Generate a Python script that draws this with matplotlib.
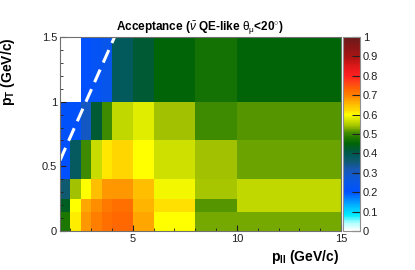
import numpy as np
import matplotlib
matplotlib.use('Agg')
import matplotlib.pyplot as plt
from matplotlib.colors import LinearSegmentedColormap

plt.rcParams['font.family'] = ['Liberation Sans', 'DejaVu Sans']
plt.rcParams['mathtext.fontset'] = 'custom'
plt.rcParams['mathtext.rm'] = 'Liberation Sans'
plt.rcParams['mathtext.it'] = 'Liberation Sans:italic'
plt.rcParams['mathtext.bf'] = 'Liberation Sans:bold'

# bin edges
pll_edges = [1.5, 2.0, 2.5, 3.0, 3.5, 4.0, 4.5, 5.0, 6.0, 8.0, 10.0, 15.0]
pt_edges = [0.0, 0.15, 0.25, 0.4, 0.7, 1.0, 1.5]

# acceptance per pT row (bottom to top), one value per pll bin
acc_pt0 = [0.48, 0.61, 0.68, 0.70, 0.72, 0.73, 0.73, 0.67, 0.60, 0.525, 0.525]
acc_pt1 = [0.43, 0.60, 0.67, 0.69, 0.71, 0.72, 0.72, 0.66, 0.62, 0.515, 0.56]
acc_pt2 = [0.36, 0.54, 0.60, 0.65, 0.68, 0.68, 0.68, 0.65, 0.59, 0.545, 0.56]
acc_pt3 = [0.20, 0.38, 0.50, 0.565, 0.615, 0.625, 0.625, 0.60, 0.57, 0.54, 0.52]
acc_pt4 = [0.21, 0.21, 0.30, 0.42, 0.50, 0.56, 0.56, 0.58, 0.54, 0.50, 0.515]
acc_pt5 = [np.nan, np.nan, 0.20, 0.22, 0.24, 0.385, 0.385, 0.42, 0.45, 0.47, 0.45]

theta_max = 20.0  # degrees

cb_ticks = [0, 0.1, 0.2, 0.3, 0.4, 0.5, 0.6, 0.7, 0.8, 0.9, 1]

acc = np.ma.masked_invalid(np.array([acc_pt0, acc_pt1, acc_pt2, acc_pt3, acc_pt4, acc_pt5]))

# ROOT-ish palette
anchors = [(0.00, '#ffffff'), (0.04, '#b0ffff'), (0.08, '#00eeff'), (0.12, '#00c0ff'),
           (0.16, '#0088ff'), (0.20, '#0050ff'), (0.26, '#0a58e0'), (0.32, '#1858b0'),
           (0.36, '#105a70'), (0.39, '#005a58'), (0.42, '#005a34'), (0.45, '#006408'),
           (0.48, '#1c7800'), (0.51, '#4a9000'), (0.54, '#a0c000'), (0.57, '#d0e200'),
           (0.60, '#ffff00'), (0.625, '#ffd800'), (0.65, '#ffc000'), (0.675, '#ffa000'),
           (0.70, '#ff8000'), (0.73, '#ff6800'), (0.76, '#ff4814'), (0.80, '#ff2020'),
           (0.85, '#e01818'), (0.90, '#a81414'), (1.00, '#6a1a1a')]
cmap = LinearSegmentedColormap.from_list('acc', anchors)

fig = plt.figure(figsize=(4.15, 2.7), dpi=100)
ax = fig.add_axes([60/415, 39/270, 281/415, 194/270])
cax = fig.add_axes([343/415, 39/270, 17/415, 194/270])

mesh = ax.pcolormesh(pll_edges, pt_edges, acc, cmap=cmap, vmin=0, vmax=1)

xl = np.array([pll_edges[0], pll_edges[-1]])
ax.plot(xl, xl * np.tan(np.radians(theta_max)), color='white', lw=2.2,
        dashes=(4.5, 2.5))

ax.set_xlim(pll_edges[0], pll_edges[-1])
ax.set_ylim(pt_edges[0], pt_edges[-1])
ax.set_xticks([5, 10, 15])
ax.set_xticks(np.arange(2, 15, 1.0), minor=True)
ax.set_yticks([0, 0.5, 1, 1.5])
ax.set_yticklabels(['0', '0.5', '1', '1.5'])
ax.set_yticks(np.arange(0, 1.5, 0.1), minor=True)
ax.tick_params(which='both', direction='in', labelsize=8, colors='#202020', pad=2)
ax.tick_params(which='major', length=4)
ax.tick_params(which='minor', length=2)
for s in ax.spines.values():
    s.set_color('#707070')
    s.set_linewidth(0.8)

cb = fig.colorbar(mesh, cax=cax, ticks=cb_ticks)
cb.ax.set_yticklabels([f'{t:g}' for t in cb_ticks])
cb.ax.tick_params(direction='in', length=6, labelsize=8, pad=2, colors='#202020')
cb.outline.set_edgecolor('#909090')

fig.text(200/415, (270-31)/270,
         r'Acceptance ($\bar{\nu}$ QE-like $\mathrm{\theta_{\mu}}$<20$^{\circ}$)',
         ha='center', va='baseline', fontsize=8.5, fontweight='bold')
fig.text(339/415, (270-261)/270, r'p$_{\mathbf{ll}}$ (GeV/c)', ha='right', va='baseline',
         fontsize=10, fontweight='bold')
fig.text(17/415, (270-37)/270, r'p$_{\mathbf{T}}$ (GeV/c)', ha='right', va='top',
         rotation=90, fontsize=10, fontweight='bold')

fig.savefig('out.png', dpi=100)
